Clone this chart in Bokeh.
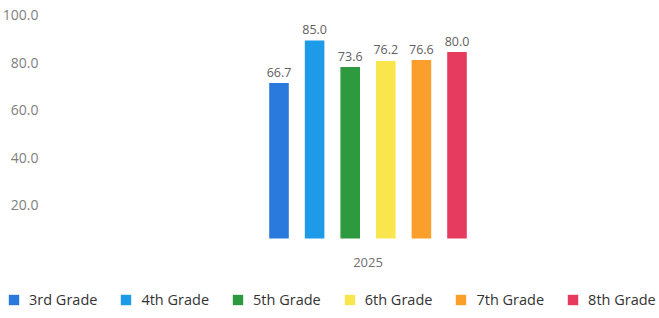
from bokeh.plotting import figure
from bokeh.models import (ColumnDataSource, Range1d, LinearAxis, FixedTicker,
                          Legend, LegendItem, NumeralTickFormatter)
from bokeh.transform import dodge
from bokeh.core.properties import value
from bokeh.embed import file_html
from bokeh.resources import INLINE

# ---- data ----
year = 2025
grades = ["3rd Grade", "4th Grade", "5th Grade", "6th Grade", "7th Grade", "8th Grade"]
scores = [66.7, 85.0, 73.6, 76.2, 76.6, 80.0]
colors = ["#2a79dc", "#1d9be8", "#2e9a40", "#f8e64c", "#fb9f2c", "#e63a5e"]
y_ticks = [20, 40, 60, 80, 100]

# ---- layout values ----
offsets = [-0.25, -0.15, -0.05, 0.05, 0.15, 0.25]
bar_width = 0.055
FONT = "Open Sans"

p = figure(width=659, height=318, output_backend="svg", toolbar_location=None,
           x_range=Range1d(2023.9677, 2025.8188), y_range=Range1d(-34.33, 102.15),
           x_axis_location=None, y_axis_location=None, outline_line_color=None,
           min_border=0, min_border_left=0, min_border_right=0,
           min_border_top=0, min_border_bottom=0)
p.background_fill_color = "white"
p.border_fill_color = "white"
p.grid.visible = False
p.extra_y_ranges = {"ticks": Range1d(-27.58, 106.3)}

renderers = []
for g, s, c, off in zip(grades, scores, colors, offsets):
    src = ColumnDataSource(dict(x=[year], top=[s], label=[f"{s:.1f}"]))
    r = p.vbar(x=dodge("x", off), top="top", bottom=0, width=bar_width,
               source=src, fill_color=c, line_color=None)
    p.text(x=dodge("x", off), y="top", text="label", source=src,
           text_align="center", text_baseline="alphabetic", y_offset=-11,
           text_font_size="12.5px", text_color="#606060", text_font=value(FONT))
    renderers.append(r)

xaxis = LinearAxis(fixed_location=0, ticker=FixedTicker(ticks=[year]),
                   axis_line_color=None, major_tick_line_color=None,
                   minor_tick_line_color=None, major_label_standoff=13,
                   major_label_text_font_size="13px",
                   major_label_text_color="#707070",
                   major_label_text_font=FONT)
p.add_layout(xaxis, "below")

yaxis = LinearAxis(y_range_name="ticks", fixed_location=2024.1138,
                   ticker=FixedTicker(ticks=y_ticks),
                   formatter=NumeralTickFormatter(format="0.0"),
                   axis_line_color=None, major_tick_line_color=None,
                   minor_tick_line_color=None, major_label_standoff=8,
                   major_label_text_font_size="14px",
                   major_label_text_color="#808080",
                   major_label_text_font=FONT)
p.add_layout(yaxis, "left")

legend = Legend(items=[LegendItem(label=g, renderers=[r]) for g, r in zip(grades, renderers)],
                orientation="horizontal", location=(7, 9), padding=0, margin=0,
                spacing=22, glyph_width=13, glyph_height=13, label_height=13,
                label_standoff=9, label_text_font_size="14.5px",
                label_text_font=FONT, label_text_color="#333333",
                background_fill_alpha=0, border_line_color=None)
p.add_layout(legend)

open("out.html", "w").write(file_html(p, INLINE))
